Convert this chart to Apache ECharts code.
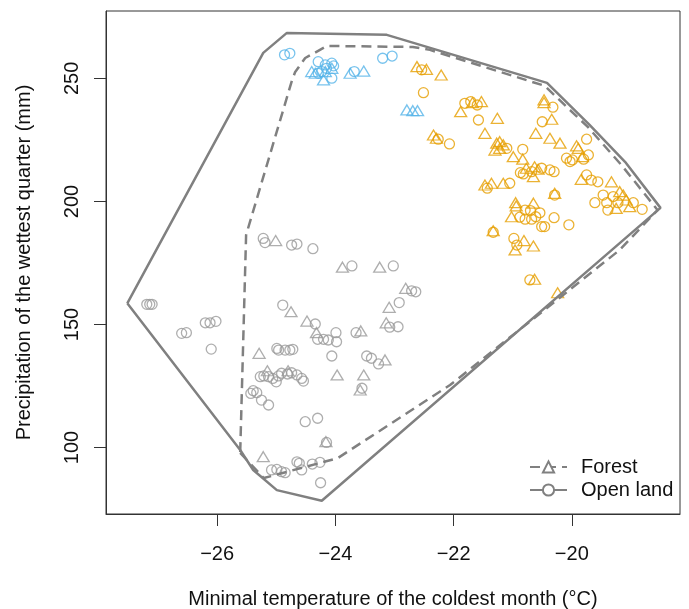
<!DOCTYPE html>
<html>
<head>
<meta charset="utf-8">
<script src="https://cdn.jsdelivr.net/npm/echarts@6/dist/echarts.min.js"></script>
<style>
  html, body { margin: 0; padding: 0; background: #fff; }
  #main { width: 689px; height: 609px; }
</style>
</head>
<body>
<div id="main"></div>
<script>
// tick values
var xTicks = [-26, -24, -22, -20];
var yTicks = [100, 150, 200, 250];

// hull outlines (closed)
var hullForest = [
  [-25.61, 97.8], [-25.21, 87.6], [-23.96, 95.7], [-22.06, 125.4], [-19.19, 180.3],
  [-18.55, 196.5], [-19.16, 214.8], [-19.73, 230.3], [-20.46, 247.0], [-22.40, 261.6],
  [-22.69, 262.8], [-24.14, 263.2], [-24.51, 258.3], [-24.68, 252.6], [-24.73, 249.5],
  [-25.51, 186.4], [-25.61, 97.8]
];
var hullOpen = [
  [-27.52, 158.6], [-25.22, 260.4], [-24.82, 268.5], [-23.13, 267.7], [-20.42, 248.2],
  [-19.70, 231.1], [-19.10, 216.1], [-18.50, 197.4], [-24.23, 78.4], [-24.99, 82.7],
  [-25.39, 90.9], [-25.61, 99.0], [-27.52, 158.6]
];

// gray points
var grayForest = [
  [-23.88, 173.3], [-23.25, 173.3], [-25.01, 184.1], [-24.75, 155.2], [-24.48, 151.4],
  [-24.32, 146.7], [-23.57, 147.4], [-23.14, 150.7], [-22.81, 164.7], [-23.09, 157.0],
  [-23.16, 135.6], [-23.97, 129.5], [-23.52, 129.5], [-23.58, 123.4], [-25.29, 138.3],
  [-25.15, 131.2], [-24.80, 131.2], [-24.16, 102.4], [-25.22, 96.3]
];
var grayOpen = [
  [-23.72, 173.8], [-23.02, 173.8], [-27.19, 158.2], [-27.14, 158.2], [-27.10, 158.2],
  [-26.60, 146.4], [-26.52, 146.7], [-26.20, 150.7], [-26.12, 150.7], [-26.02, 151.3],
  [-26.10, 140.0], [-24.89, 157.9], [-24.34, 150.2], [-24.30, 144.0], [-24.20, 144.0],
  [-24.12, 143.7], [-23.99, 146.7], [-23.98, 143.0], [-23.65, 146.7], [-23.08, 148.9],
  [-22.94, 149.1], [-22.71, 163.7], [-22.64, 163.3], [-22.92, 158.9], [-24.06, 137.2],
  [-23.47, 137.2], [-23.39, 136.3], [-23.27, 134.0], [-23.55, 124.1], [-24.99, 140.3],
  [-24.96, 139.6], [-24.85, 139.6], [-24.77, 139.6], [-24.72, 139.9], [-25.27, 128.8],
  [-25.21, 129.1], [-25.13, 128.8], [-25.06, 128.1], [-25.00, 126.7], [-24.96, 129.1],
  [-24.91, 130.2], [-24.81, 129.9], [-24.74, 130.4], [-24.65, 129.5], [-24.57, 128.1],
  [-24.54, 127.0], [-25.43, 122.0], [-25.39, 123.1], [-25.33, 122.3], [-25.25, 119.3],
  [-25.13, 117.3], [-24.51, 110.5], [-24.30, 111.9], [-24.15, 102.1], [-25.08, 90.9],
  [-24.99, 91.1], [-24.91, 90.2], [-24.85, 89.8], [-24.65, 94.2], [-24.61, 93.6],
  [-24.57, 90.9], [-24.39, 93.3], [-24.26, 94.0], [-24.25, 85.7], [-25.22, 185.0],
  [-25.19, 183.3], [-24.74, 182.3], [-24.65, 182.7], [-24.38, 180.8]
];

// blue points
var blueForest = [
  [-24.40, 252.8], [-24.34, 252.1], [-24.17, 252.8], [-24.20, 249.4], [-24.06, 254.1],
  [-23.75, 252.1], [-23.52, 253.0], [-22.79, 237.2], [-22.69, 236.9], [-22.61, 236.9]
];
var blueOpen = [
  [-24.86, 259.6], [-24.77, 260.2], [-24.29, 256.8], [-24.17, 255.5], [-24.06, 256.2],
  [-24.03, 255.1], [-24.29, 252.1], [-24.23, 252.8], [-24.06, 250.1], [-24.15, 254.1],
  [-23.68, 252.8], [-23.20, 258.2], [-23.04, 259.1]
];

// orange points
var orangeForest = [
  [-22.62, 254.8], [-22.46, 253.7], [-22.21, 251.4], [-21.68, 240.2], [-21.53, 240.6],
  [-21.88, 236.5], [-21.26, 233.8], [-20.47, 241.3], [-20.47, 240.2], [-20.34, 233.4],
  [-22.34, 227.0], [-22.29, 225.7], [-21.47, 227.7], [-20.61, 227.7], [-20.37, 225.7],
  [-20.20, 223.7], [-19.92, 222.6], [-19.89, 221.6], [-19.82, 218.2], [-21.27, 223.7],
  [-21.22, 224.3], [-21.16, 223.0], [-21.30, 220.9], [-21.22, 221.6], [-20.99, 218.2],
  [-20.83, 217.2], [-20.77, 213.5], [-20.63, 214.1], [-20.57, 213.1], [-20.65, 210.1],
  [-21.47, 206.7], [-21.36, 207.4], [-21.16, 207.4], [-20.29, 203.3], [-19.84, 209.0],
  [-19.33, 208.0], [-19.19, 204.0], [-19.13, 202.6], [-19.08, 200.6], [-19.02, 197.9],
  [-19.25, 197.2], [-20.95, 199.5], [-20.94, 198.2], [-20.65, 199.3], [-21.02, 193.8],
  [-21.33, 188.1], [-20.81, 184.1], [-20.65, 181.9], [-20.96, 180.3], [-20.63, 168.4],
  [-20.24, 162.9]
];
var orangeOpen = [
  [-22.54, 253.5], [-22.51, 244.2], [-21.81, 239.9], [-21.71, 240.6], [-21.60, 239.2],
  [-21.58, 233.1], [-20.32, 238.3], [-20.50, 232.4], [-22.26, 225.3], [-22.07, 223.4],
  [-19.75, 225.3], [-19.72, 218.9], [-19.80, 217.2], [-20.09, 217.6], [-20.03, 216.2],
  [-19.99, 216.9], [-21.10, 221.6], [-20.83, 221.2], [-20.87, 211.7], [-20.68, 212.1],
  [-20.51, 213.5], [-20.37, 212.8], [-20.30, 212.1], [-20.82, 211.2], [-21.43, 205.4],
  [-21.05, 207.4], [-20.29, 202.6], [-19.75, 210.8], [-19.67, 208.7], [-19.56, 208.0],
  [-19.47, 202.6], [-19.61, 199.5], [-19.41, 199.5], [-19.39, 196.5], [-19.30, 202.0],
  [-18.96, 199.5], [-18.81, 196.8], [-19.22, 199.5], [-20.79, 196.5], [-20.88, 193.6],
  [-20.79, 192.8], [-20.68, 192.8], [-20.61, 193.8], [-20.54, 195.4], [-20.70, 196.3],
  [-20.51, 189.8], [-20.46, 189.8], [-20.30, 193.4], [-20.05, 190.5], [-21.33, 187.5],
  [-20.98, 185.0], [-20.93, 182.3], [-20.71, 168.1]
];

var GRAY = '#9a9a9a', BLUE = '#56B4E9', ORANGE = '#E69F00', HULL = '#808080';
var FONT = 'Liberation Sans, Arial, sans-serif';

function pts(data, shape, col) {
  return {
    type: 'scatter',
    data: data,
    symbol: shape,
    symbolSize: shape === 'triangle' ? [12, 10] : 10,
    silent: true,
    itemStyle: { color: 'rgba(0,0,0,0)', borderColor: col, borderWidth: 1.3 },
    z: 2
  };
}

var chart = echarts.init(document.getElementById('main'));
chart.setOption({
  animation: false,
  grid: {
    left: 106, right: 9, top: 11, bottom: 95, outerBoundsMode: 'none',
    show: true, borderColor: '#333', borderWidth: 1
  },
  legend: {
    data: ['Forest', 'Open land'],
    orient: 'vertical',
    left: 524, top: 452,
    itemWidth: 37, itemHeight: 14, itemGap: 3,
    textStyle: { fontSize: 20, color: '#111', fontFamily: FONT, padding: [0, 0, 0, 9] }
  },
  xAxis: {
    type: 'value', min: -27.88, max: -18.17,
    name: 'Minimal temperature of the coldest month (°C)',
    nameLocation: 'middle', nameGap: 75,
    nameTextStyle: { fontSize: 20, color: '#111', fontFamily: FONT },
    splitLine: { show: false },
    axisLine: { show: true, onZero: false, lineStyle: { color: '#333', width: 1 } },
    axisTick: { show: true, length: 12, customValues: xTicks, lineStyle: { color: '#333' } },
    axisLabel: {
      customValues: xTicks, margin: 30, fontSize: 20, color: '#111', fontFamily: FONT,
      formatter: function (v) { return (v < 0 ? '\u2212' : '') + Math.abs(v); }
    }
  },
  yAxis: {
    type: 'value', min: 73, max: 277.4,
    name: 'Precipitation of the wettest quarter (mm)',
    nameLocation: 'middle', nameGap: 72,
    nameTextStyle: { fontSize: 20, color: '#111', fontFamily: FONT },
    splitLine: { show: false },
    axisLine: { show: true, onZero: false, lineStyle: { color: '#333', width: 1 } },
    axisTick: { show: true, length: 12, customValues: yTicks, lineStyle: { color: '#333' } },
    axisLabel: { customValues: yTicks, rotate: 90, margin: 24, fontSize: 20, color: '#111', fontFamily: FONT }
  },
  series: [
    pts(grayOpen, 'circle', GRAY),
    pts(grayForest, 'triangle', GRAY),
    pts(blueOpen, 'circle', BLUE),
    pts(blueForest, 'triangle', BLUE),
    pts(orangeOpen, 'circle', ORANGE),
    pts(orangeForest, 'triangle', ORANGE),
    {
      name: 'Forest', type: 'line', data: hullForest, silent: true,
      symbol: 'emptyTriangle', symbolSize: 10, showSymbol: false,
      itemStyle: { color: HULL, borderColor: HULL, borderWidth: 2 },
      lineStyle: { color: HULL, width: 2.5, type: [10, 6] }, z: 3
    },
    {
      name: 'Open land', type: 'line', data: hullOpen, silent: true,
      symbol: 'emptyCircle', symbolSize: 8, showSymbol: false,
      itemStyle: { color: HULL, borderColor: HULL, borderWidth: 2 },
      lineStyle: { color: HULL, width: 2.5 }, z: 3
    }
  ]
});
</script>
</body>
</html>
